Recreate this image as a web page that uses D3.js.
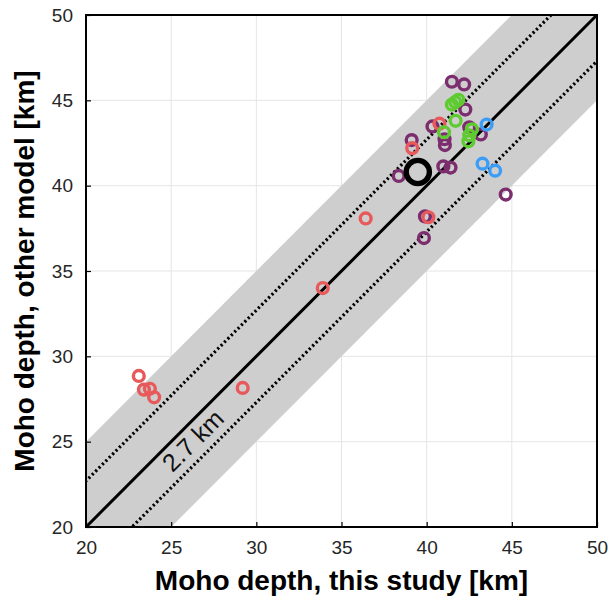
<!DOCTYPE html>
<html>
<head>
<meta charset="utf-8">
<script src="https://cdn.jsdelivr.net/npm/d3@7"></script>
<style>
  html, body { margin: 0; padding: 0; background: #fff; }
  svg { display: block; font-family: Arial, "Liberation Sans", Helvetica, sans-serif; }
</style>
</head>
<body>
<svg id="chart" width="609" height="599"></svg>
<script>
// Moho depth comparison: this study (x) vs. other models (y), in km
const ticks = [20, 25, 30, 35, 40, 45, 50];
const bandHalfWidth = 5;      // grey envelope, km
const misfit = 2.7;           // dotted lines, km

const redPoints = [
  [23.1, 28.85], [23.4, 28.05], [23.75, 28.1], [24.0, 27.6], [29.2, 28.15],
  [33.9, 34.0], [36.42, 38.08], [40.1, 38.15], [39.15, 42.2], [40.75, 43.63]
];
const purplePoints = [
  [39.12, 42.67], [40.34, 43.47], [41.05, 42.72], [41.07, 42.38], [40.98, 41.13],
  [41.4, 41.06], [38.36, 40.57], [39.9, 38.2], [39.84, 36.93], [44.64, 39.48],
  [41.48, 46.09], [42.2, 45.93], [42.27, 44.46], [42.5, 43.42], [43.18, 43.0]
];
const greenPoints = [
  [41.48, 44.75], [41.68, 44.9], [41.86, 45.03], [41.7, 43.8], [41.02, 43.13],
  [42.66, 43.3], [42.5, 42.95], [42.45, 42.6]
];
const bluePoints = [
  [43.52, 43.58], [43.28, 41.29], [44.02, 40.88]
];
const meanPoint = [[39.48, 40.8]];

const groups = [
  { pts: purplePoints, color: "#7b2d6e", r: 5.4, sw: 3.4 },
  { pts: redPoints,    color: "#e8595b", r: 5.4, sw: 3.4 },
  { pts: greenPoints,  color: "#5ecb30", r: 5.4, sw: 3.4 },
  { pts: bluePoints,   color: "#3c9df7", r: 5.4, sw: 3.4 },
  { pts: meanPoint,    color: "#000000", r: 11.6, sw: 5.4 }
];

const W = 609, H = 599;
const margin = { left: 86, right: 12, top: 15, bottom: 72 };
const iw = W - margin.left - margin.right;
const ih = H - margin.top - margin.bottom;

const svg = d3.select("#chart");
const x = d3.scaleLinear().domain([20, 50]).range([0, iw]);
const y = d3.scaleLinear().domain([20, 50]).range([ih, 0]);

svg.append("defs").append("clipPath").attr("id", "plotClip")
  .append("rect").attr("width", iw).attr("height", ih);

const g = svg.append("g").attr("transform", `translate(${margin.left},${margin.top})`);

// grid
const inner = ticks.slice(1, -1);
g.append("g").selectAll("line").data(inner).join("line")
  .attr("x1", d => x(d)).attr("x2", d => x(d)).attr("y1", 0).attr("y2", ih)
  .attr("stroke", "#e5e5e5").attr("stroke-width", 1);
g.append("g").selectAll("line").data(inner).join("line")
  .attr("y1", d => y(d)).attr("y2", d => y(d)).attr("x1", 0).attr("x2", iw)
  .attr("stroke", "#e5e5e5").attr("stroke-width", 1);

const clip = g.append("g").attr("clip-path", "url(#plotClip)");

// grey envelope around the 1:1 line
const lo = 10, hi = 60;
const band = [
  [lo, lo + bandHalfWidth], [hi, hi + bandHalfWidth],
  [hi, hi - bandHalfWidth], [lo, lo - bandHalfWidth]
];
clip.append("path")
  .attr("d", d3.line().x(d => x(d[0])).y(d => y(d[1]))(band) + "Z")
  .attr("fill", "#cecece");

// 1:1 line and the +/- misfit lines
const diag = off => d3.line().x(d => x(d)).y(d => y(d + off))([lo, hi]);
[misfit, -misfit].forEach(off => {
  clip.append("path").attr("d", diag(off))
    .attr("stroke", "#000").attr("stroke-width", 3.2)
    .attr("stroke-dasharray", "2.2,2.6").attr("fill", "none");
});
clip.append("path").attr("d", diag(0))
  .attr("stroke", "#000").attr("stroke-width", 3).attr("fill", "none");

// misfit label along the 1:1 line
const lx = x(26.36), ly = y(24.98);
g.append("text")
  .attr("transform", `translate(${lx},${ly}) rotate(-45)`)
  .attr("text-anchor", "middle").attr("dominant-baseline", "middle")
  .attr("font-size", 25).attr("fill", "#111")
  .text(`${misfit} km`);

// data points
groups.forEach(grp => {
  clip.append("g").selectAll("circle").data(grp.pts).join("circle")
    .attr("cx", d => x(d[0])).attr("cy", d => y(d[1]))
    .attr("r", grp.r).attr("fill", "none")
    .attr("stroke", grp.color).attr("stroke-width", grp.sw);
});

// axes with inward ticks
const xAxis = g.append("g").attr("transform", `translate(0,${ih})`)
  .call(d3.axisBottom(x).tickValues(ticks).tickSizeInner(-5).tickSizeOuter(0).tickPadding(14));
const yAxis = g.append("g")
  .call(d3.axisLeft(y).tickValues(ticks).tickSizeInner(-5).tickSizeOuter(0).tickPadding(13));
[xAxis, yAxis].forEach(a => {
  a.select(".domain").remove();
  a.selectAll(".tick line").attr("stroke", "#000").attr("stroke-width", 1.2);
  a.selectAll(".tick text").attr("font-size", 19).attr("fill", "#262626")
    .attr("font-family", "Arial, 'Liberation Sans', sans-serif");
});

// frame
g.append("rect").attr("width", iw).attr("height", ih)
  .attr("fill", "none").attr("stroke", "#000").attr("stroke-width", 2);

// axis titles
svg.append("text")
  .attr("x", margin.left + iw / 2).attr("y", 590)
  .attr("text-anchor", "middle").attr("font-size", 28).attr("font-weight", "bold")
  .text("Moho depth, this study [km]");
svg.append("text")
  .attr("transform", `translate(34,${margin.top + ih / 2}) rotate(-90)`)
  .attr("text-anchor", "middle").attr("font-size", 28).attr("font-weight", "bold")
  .text("Moho depth, other model [km]");
</script>
</body>
</html>
